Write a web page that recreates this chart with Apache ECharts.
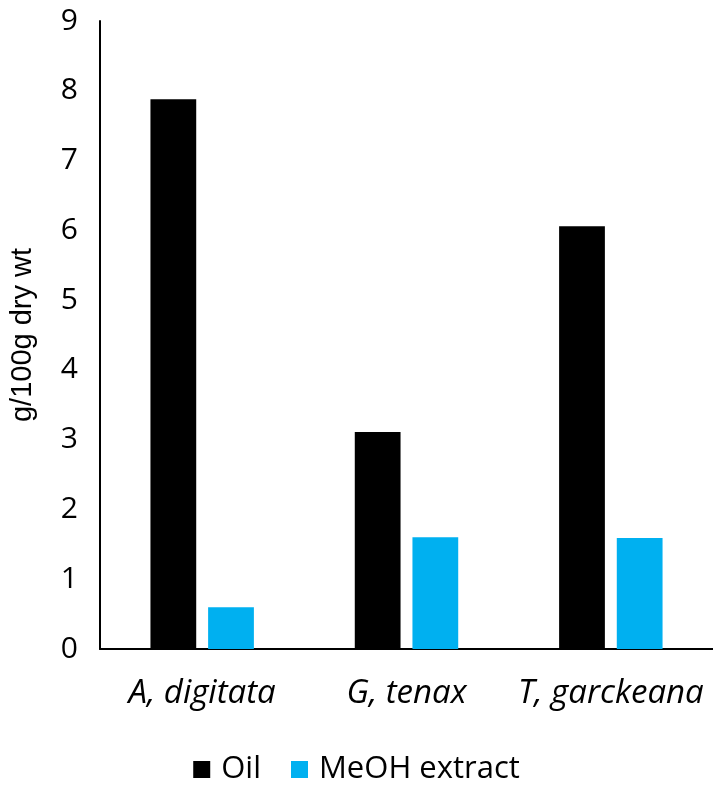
<!DOCTYPE html>
<html>
<head>
<meta charset="utf-8">
<script src="https://cdn.jsdelivr.net/npm/echarts@6/dist/echarts.min.js"></script>
<style>
  html, body { margin: 0; padding: 0; background: #fff; }
  #chart { width: 713px; height: 796px; }
</style>
</head>
<body>
<div id="chart"></div>
<script>
const categories = ["A, digitata", "G, tenax", "T, garckeana"];
const oilValues = [7.88, 3.11, 6.06];
const meohValues = [0.6, 1.6, 1.59];
const seriesNames = ["Oil", "MeOH extract"];

const chart = echarts.init(document.getElementById("chart"));
const font = "'Open Sans', 'Noto Sans', sans-serif";

const option = {
  animation: false,
  textStyle: { fontFamily: font },
  grid: { left: 96, right: 0, top: 21, bottom: 147 },
  legend: {
    bottom: 6,
    left: "center",
    itemWidth: 17,
    itemHeight: 17,
    itemGap: 30,
    icon: "rect",
    textStyle: { fontSize: 31, color: "#000", fontFamily: font, padding: [0, 0, 0, 6] },
    data: seriesNames,
  },
  xAxis: {
    type: "category",
    data: categories,
    axisLine: { lineStyle: { color: "#000", width: 2 } },
    axisTick: { show: false },
    axisLabel: {
      interval: 0,
      fontSize: 33,
      fontStyle: "italic",
      color: "#000",
      margin: 28,
      fontFamily: font,
    },
  },
  yAxis: {
    type: "value",
    min: 0,
    max: 9,
    interval: 1,
    name: "g/100g dry wt",
    nameLocation: "middle",
    nameGap: 63,
    nameTextStyle: { fontSize: 29, color: "#000", fontFamily: "'Liberation Sans', Arial, sans-serif" },
    axisLine: { show: true, lineStyle: { color: "#000", width: 2 } },
    axisTick: { show: false },
    splitLine: { show: false },
    axisLabel: { fontSize: 30, color: "#000", margin: 22, fontFamily: font },
  },
  series: [
    {
      name: seriesNames[0],
      type: "bar",
      data: oilValues,
      barWidth: "22.4%",
      barGap: "26%",
      itemStyle: { color: "#000" },
    },
    {
      name: seriesNames[1],
      type: "bar",
      data: meohValues,
      barWidth: "22.4%",
      itemStyle: { color: "#00b0f0" },
    },
  ],
};

chart.setOption(option);
</script>
</body>
</html>
